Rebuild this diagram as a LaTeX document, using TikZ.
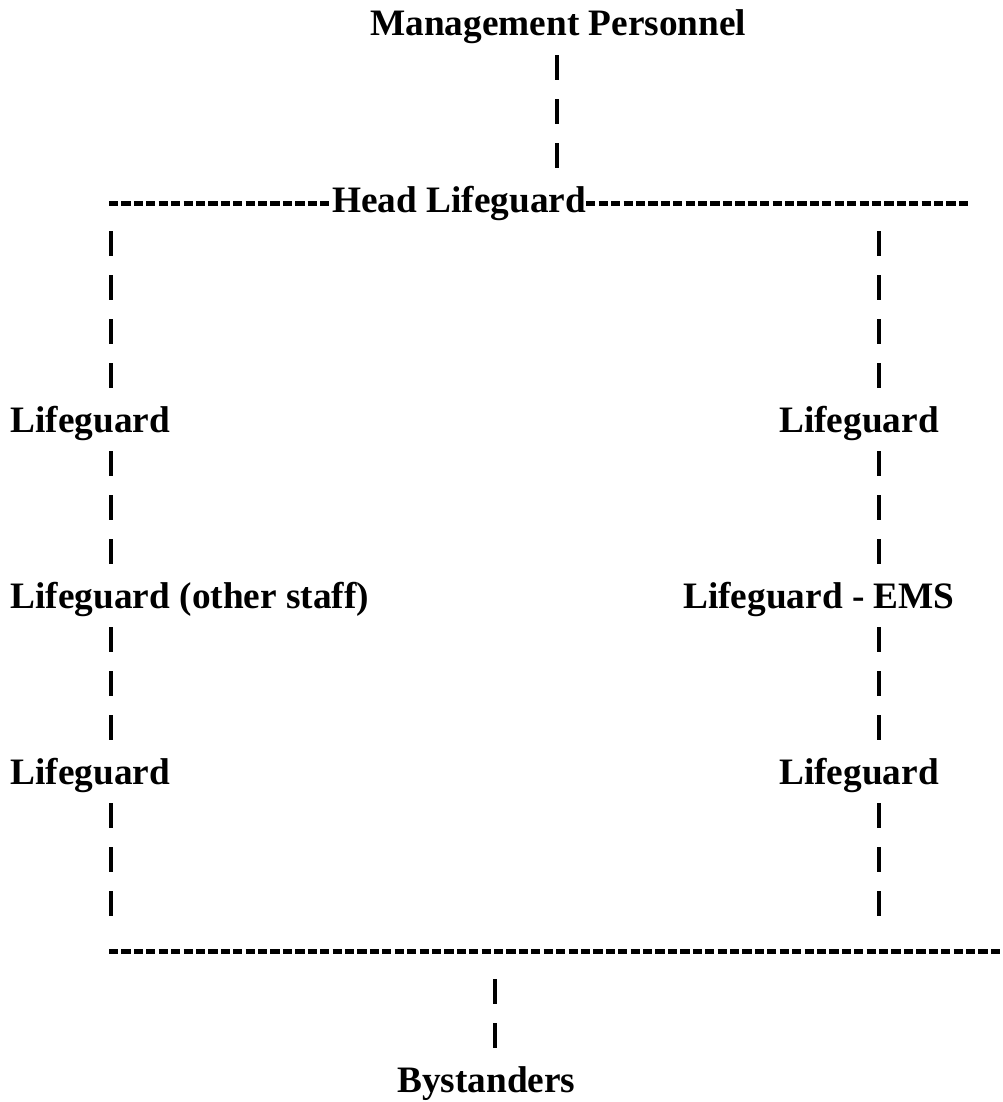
\documentclass[tikz,border=0pt]{standalone}
\usepackage{fontspec}
\setmainfont{Liberation Serif}
\begin{document}
\begin{tikzpicture}[x=1pt, y=-1pt,
    lbl/.style={anchor=base west, inner sep=0pt, text height=25pt, text depth=0pt,
        font=\bfseries\fontsize{37.3}{44}\selectfont},
    bars/.style={line width=3.4pt, dash pattern=on 25pt off 19pt, dash phase=25pt},
    hyph/.style={line width=4.3pt, dash pattern=on 9.2pt off 3.22pt}]
    \useasboundingbox (0,0) rectangle (1002,1102);

    % 竖线所在的列
    \coordinate (colT) at (557,0);
    \coordinate (colL) at (111,0);
    \coordinate (colR) at (879,0);
    \coordinate (colB) at (495,0);

    % 各行文字
    \node[lbl] (mgmt) at (370,36) {Management Personnel};
    \node[lbl] (head) at (332,212) {Head Lifeguard};
    \node[lbl] (lgA) at (10.5,432) {Lifeguard};
    \node[lbl] (lgB) at (10.5,608) {Lifeguard (other staff)};
    \node[lbl] (lgC) at (10.5,784) {Lifeguard};
    \node[lbl] (rgA) at (779,432) {Lifeguard};
    \node[lbl] (rgB) at (683,608) {Lifeguard - EMS};
    \node[lbl] (rgC) at (779,784) {Lifeguard};
    \node[lbl] (bottom) at (109,960) {};
    \node[lbl] (bystand) at (397,1092) {Bystanders};

    % 横向虚线
    \coordinate (hlA) at (109,203.5);
    \coordinate (hlB) at (968,203.5);
    \draw[hyph] (hlA) -- (hlA -| head.west);
    \draw[hyph] (hlA -| head.east) -- (hlB);
    \coordinate (blA) at (109,951.5);
    \coordinate (blB) at (1002,951.5);
    \draw[hyph] (blA) -- (blB);

    % 竖向连线
    \draw[bars] (mgmt.south -| colT) -- (head.north -| colT);
    \draw[bars] (head.south -| colL) -- (lgA.north -| colL);
    \draw[bars] (lgA.south -| colL) -- (lgB.north -| colL);
    \draw[bars] (lgB.south -| colL) -- (lgC.north -| colL);
    \draw[bars] (lgC.south -| colL) -- (bottom.north -| colL);
    \draw[bars] (head.south -| colR) -- (rgA.north -| colR);
    \draw[bars] (rgA.south -| colR) -- (rgB.north -| colR);
    \draw[bars] (rgB.south -| colR) -- (rgC.north -| colR);
    \draw[bars] (rgC.south -| colR) -- (bottom.north -| colR);
    \draw[bars] (bottom.south -| colB) -- (bystand.north -| colB);
\end{tikzpicture}
\end{document}
